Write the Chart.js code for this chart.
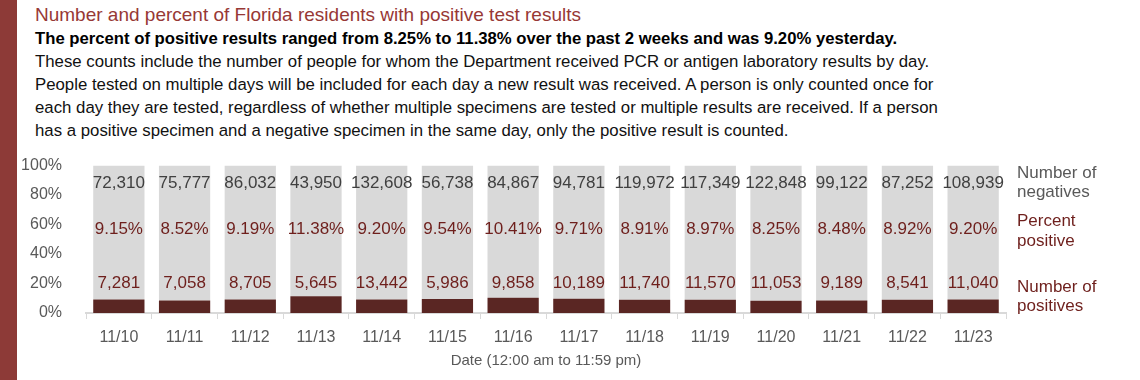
<!DOCTYPE html>
<html>
<head>
<meta charset="utf-8">
<script src="https://cdn.jsdelivr.net/npm/chart.js@4.4.1/dist/chart.umd.min.js"></script>
<style>
  html,body{margin:0;padding:0;background:#fff;}
  body{width:1140px;height:380px;position:relative;overflow:hidden;font-family:"Liberation Sans",Arial,sans-serif;}
  #stripe{position:absolute;left:0;top:0;width:17px;height:380px;background:#8d3a37;}
  .t{position:absolute;left:35px;white-space:nowrap;}
  #title{top:4px;font-size:19px;color:#973835;}
  #sub{top:29px;font-size:16.7px;font-weight:bold;color:#000;}
  .p{font-size:16.8px;color:#111;}
  #wrap{position:absolute;left:0;top:140px;width:1140px;height:240px;}
  canvas{display:block;}
</style>
</head>
<body>
<div id="stripe"></div>
<div class="t" id="title">Number and percent of Florida residents with positive test results</div>
<div class="t" id="sub">The percent of positive results ranged from 8.25% to 11.38% over the past 2 weeks and was 9.20% yesterday.</div>
<div class="t p" style="top:52px">These counts include the number of people for whom the Department received PCR or antigen laboratory results by day.</div>
<div class="t p" style="top:75px">People tested on multiple days will be included for each day a new result was received. A person is only counted once for</div>
<div class="t p" style="top:98px">each day they are tested, regardless of whether multiple specimens are tested or multiple results are received. If a person</div>
<div class="t p" style="top:121px">has a positive specimen and a negative specimen in the same day, only the positive result is counted.</div>
<div id="wrap"><canvas id="c" width="1140" height="240"></canvas></div>
<script>
const dates = ['11/10','11/11','11/12','11/13','11/14','11/15','11/16','11/17','11/18','11/19','11/20','11/21','11/22','11/23'];
const negatives = [72310,75777,86032,43950,132608,56738,84867,94781,119972,117349,122848,99122,87252,108939];
const positives = [7281,7058,8705,5645,13442,5986,9858,10189,11740,11570,11053,9189,8541,11040];
const percentPositive = [9.15,8.52,9.19,11.38,9.20,9.54,10.41,9.71,8.91,8.97,8.25,8.48,8.92,9.20];
const yTicks = [0,20,40,60,80,100];

const remainder = percentPositive.map(p => 100 - p);
const FONT = '"Liberation Sans", Arial, sans-serif';
const DARK = '#5a2623';
const RED = '#6e1f1c';

const labelPlugin = {
  id: 'labels',
  afterDatasetsDraw(chart) {
    const ctx = chart.ctx, x = chart.scales.x, y = chart.scales.y, ca = chart.chartArea;
    ctx.save();
    ctx.textAlign = 'center';
    ctx.textBaseline = 'middle';
    ctx.font = '17px ' + FONT;
    dates.forEach((d, i) => {
      const cx = x.getPixelForValue(i);
      ctx.fillStyle = '#404040';
      ctx.fillText(negatives[i].toLocaleString('en-US'), cx, y.getPixelForValue(88));
      ctx.fillStyle = RED;
      ctx.fillText(percentPositive[i].toFixed(2) + '%', cx, y.getPixelForValue(57));
      ctx.fillText(positives[i].toLocaleString('en-US'), cx, y.getPixelForValue(20));
    });
    ctx.textAlign = 'left';
    ctx.font = '17px ' + FONT;
    const lx = ca.right + 11;
    ctx.fillStyle = '#595959';
    ctx.fillText('Number of', lx, y.getPixelForValue(95));
    ctx.fillText('negatives', lx, y.getPixelForValue(82));
    ctx.fillStyle = RED;
    ctx.fillText('Percent', lx, y.getPixelForValue(62));
    ctx.fillText('positive', lx, y.getPixelForValue(48.5));
    ctx.fillText('Number of', lx, y.getPixelForValue(17.5));
    ctx.fillText('positives', lx, y.getPixelForValue(4.5));
    ctx.restore();
  }
};

new Chart(document.getElementById('c'), {
  type: 'bar',
  data: {
    labels: dates,
    datasets: [
      {label: 'Percent positive', data: percentPositive, backgroundColor: DARK, borderWidth: 0},
      {label: 'Negative share', data: remainder, backgroundColor: '#d9d9d9', borderWidth: 0}
    ]
  },
  options: {
    responsive: false,
    animation: false,
    events: [],
    layout: {padding: {left: 0, right: 134, top: 10, bottom: 7}},
    datasets: {bar: {categoryPercentage: 1, barPercentage: 0.78}},
    plugins: {legend: {display: false}, tooltip: {enabled: false}},
    scales: {
      x: {
        stacked: true,
        offset: true,
        afterFit: s => { s.height = 60; },
        grid: {display: true, drawOnChartArea: false, drawTicks: true, tickLength: 6, color: '#d9d9d9', offset: true},
        border: {display: true, color: '#d9d9d9', width: 2},
        ticks: {color: '#595959', font: {family: FONT, size: 16}, padding: 9, maxRotation: 0},
        title: {display: true, text: 'Date (12:00 am to 11:59 pm)', color: '#595959', font: {family: FONT, size: 15}, padding: {top: 0, bottom: 3}}
      },
      y: {
        stacked: true,
        min: 0, max: 100,
        afterBuildTicks: s => { s.ticks = yTicks.map(v => ({value: v})); },
        afterFit: s => { s.width = 86; },
        grid: {display: false},
        border: {display: false},
        ticks: {color: '#595959', font: {family: FONT, size: 16}, padding: 16, callback: v => v + '%'}
      }
    }
  },
  plugins: [labelPlugin]
});
</script>
</body>
</html>
